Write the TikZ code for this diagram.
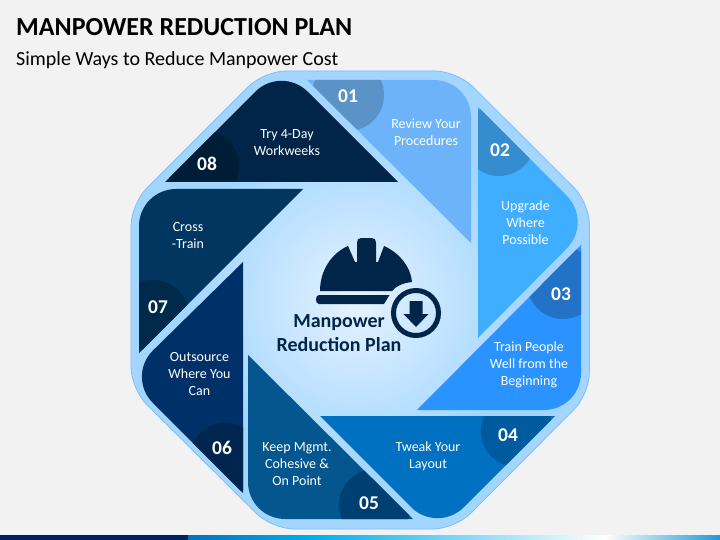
\documentclass[tikz,border=0pt]{standalone}
\usepackage{fontspec}
\setmainfont{Carlito}
\definecolor{bgc}{HTML}{F2F2F2}
\definecolor{bandc}{HTML}{A3D6FF}
\definecolor{bandedge}{HTML}{7FBDFA}
\definecolor{navy}{HTML}{002548}
\definecolor{stripnavy}{HTML}{002060}
\definecolor{stripa}{HTML}{0070C0}
\definecolor{stripb}{HTML}{00B0F0}
\definecolor{stripc}{HTML}{1C9AD6}
\definecolor{glow}{HTML}{E6F3FF}
\definecolor{bladeA}{HTML}{6DB3FA}\definecolor{badgeA}{HTML}{5A93C8}
\definecolor{bladeB}{HTML}{40AEFF}\definecolor{badgeB}{HTML}{358CCF}
\definecolor{bladeC}{HTML}{2B93FF}\definecolor{badgeC}{HTML}{2272C8}
\definecolor{bladeD}{HTML}{0070C0}\definecolor{badgeD}{HTML}{005A9E}
\definecolor{bladeE}{HTML}{04568F}\definecolor{badgeE}{HTML}{003F72}
\definecolor{bladeF}{HTML}{003068}\definecolor{badgeF}{HTML}{00264F}
\definecolor{bladeG}{HTML}{00365F}\definecolor{badgeG}{HTML}{002A4A}
\definecolor{bladeH}{HTML}{002548}\definecolor{badgeH}{HTML}{001D38}
\tikzset{
  x=1pt,y=-1pt,
  bladetext/.style={text=white,font=\fontsize{14}{17}\selectfont,align=center,inner sep=0pt},
  numtext/.style={text=white,font=\fontsize{19.5}{20}\selectfont\bfseries,inner sep=0pt},
  centertext/.style={text=navy,font=\fontsize{20}{24}\selectfont\bfseries,align=center,inner sep=0pt},
}
% #1 tip, #2 rounded apex, #3 tip, #4 blade colour, #5 badge colour, #6 badge centre
\newcommand{\myblade}[6]{%
  \fill[#4] #1 [rounded corners=37pt] -- #2 [sharp corners] -- #3 -- cycle;
  \begin{scope}
    \clip #1 [rounded corners=37pt] -- #2 [sharp corners] -- #3 -- cycle;
    \fill[#5] #6 circle (36pt);
  \end{scope}}
\begin{document}
\begin{tikzpicture}
\useasboundingbox (0,0) rectangle (720,540);
\fill[bgc] (0,0) rectangle (720,540);
% bottom strip
\fill[stripnavy] (0,535) rectangle (188,540);
\shade[left color=stripa,right color=stripb] (188,535) rectangle (315,540);
\shade[left color=stripb,right color=white] (315,535) rectangle (605,540);
\shade[left color=white,right color=stripc] (605,535) rectangle (720,540);
% octagon
\path[fill=bandc,draw=bandedge,line width=0.8pt,rounded corners=22pt]
  (264,71) -- (457,71) -- (589.5,203) -- (589.5,394) -- (455,529) -- (272,529) -- (131,389) -- (131,204) -- cycle;
\shade[inner color=glow,outer color=bandc] (358,300) circle (168pt);
% blades
\myblade{(307,80)}{(471,80)}{(471,243)}{bladeA}{badgeA}{(348,95)}
\myblade{(478,107)}{(593,222)}{(478,338)}{bladeB}{badgeB}{(499,140)}
\myblade{(581,245)}{(581,410)}{(417,410)}{bladeC}{badgeC}{(563,283)}
\myblade{(555,416)}{(437.5,533.5)}{(320,416)}{bladeD}{badgeD}{(517,431)}
\myblade{(413,519)}{(248,519)}{(248,355)}{bladeE}{badgeE}{(375,505)}
\myblade{(243,493)}{(126.5,376.5)}{(243,262)}{bladeF}{badgeF}{(225,459)}
\myblade{(139,353)}{(139,189)}{(303,189)}{bladeG}{badgeG}{(153,316)}
\myblade{(165,182)}{(281.5,65.5)}{(398,182)}{bladeH}{badgeH}{(203,166)}
% helmet
\fill[navy] (320,291)
  .. controls (320,270) and (332,253) .. (348,246)
  -- (355,262) -- (357,262) -- (357,243)
  .. controls (357,240) and (358,238) .. (361,238) -- (372,238)
  .. controls (375,238) and (376,240) .. (376,243)
  -- (376,262) -- (378,262) -- (384,246)
  .. controls (400,253) and (411,268) .. (412,282)
  .. controls (403,283) and (396,286) .. (392,291) -- cycle;
\fill[navy] (319,295) -- (389.5,295) -- (384,304) -- (319,304)
  .. controls (317,304) and (316,302) .. (316,299.5)
  .. controls (316,297) and (317,295) .. (319,295) -- cycle;
\draw[navy,line width=5pt] (416,313) circle (22.5pt);
\fill[navy] (409.5,301) -- (422.5,301) -- (422.5,314) -- (428.5,314) -- (416,327) -- (403.5,314) -- (409.5,314) -- cycle;
% texts
\node[anchor=base west,inner sep=0pt,text=black,font=\fontsize{26}{30}\selectfont\bfseries] (title) at (16,36) {MANPOWER REDUCTION PLAN};
\node[anchor=base west,inner sep=0pt,text=black,font=\fontsize{20}{24}\selectfont] (subtitle) at (16,66) {Simple Ways to Reduce Manpower Cost};
\node[centertext] (center) at (339,333.5) {Manpower\\Reduction Plan};
\node[bladetext] (t1) at (426,132) {Review Your\\Procedures};
\node[bladetext] (t2) at (525.5,223) {Upgrade\\Where\\Possible};
\node[bladetext] (t3) at (529,365) {Train People\\Well from the\\Beginning};
\node[bladetext] (t4) at (428,456) {Tweak Your\\Layout};
\node[bladetext] (t5) at (297,464) {Keep Mgmt.\\Cohesive \&\\On Point};
\node[bladetext] (t6) at (199.5,374) {Outsource\\Where You\\Can};
\node[bladetext] (t7) at (188,236) {Cross\\-Train};
\node[bladetext] (t8) at (287,143) {Try 4-Day\\Workweeks};
\node[numtext] (n1) at (348,96.5) {01};
\node[numtext] (n2) at (500,150.5) {02};
\node[numtext] (n3) at (561,294.5) {03};
\node[numtext] (n4) at (508,435.5) {04};
\node[numtext] (n5) at (369,503.5) {05};
\node[numtext] (n6) at (222,447.5) {06};
\node[numtext] (n7) at (158,307.5) {07};
\node[numtext] (n8) at (207,163.5) {08};
\end{tikzpicture}
\end{document}
